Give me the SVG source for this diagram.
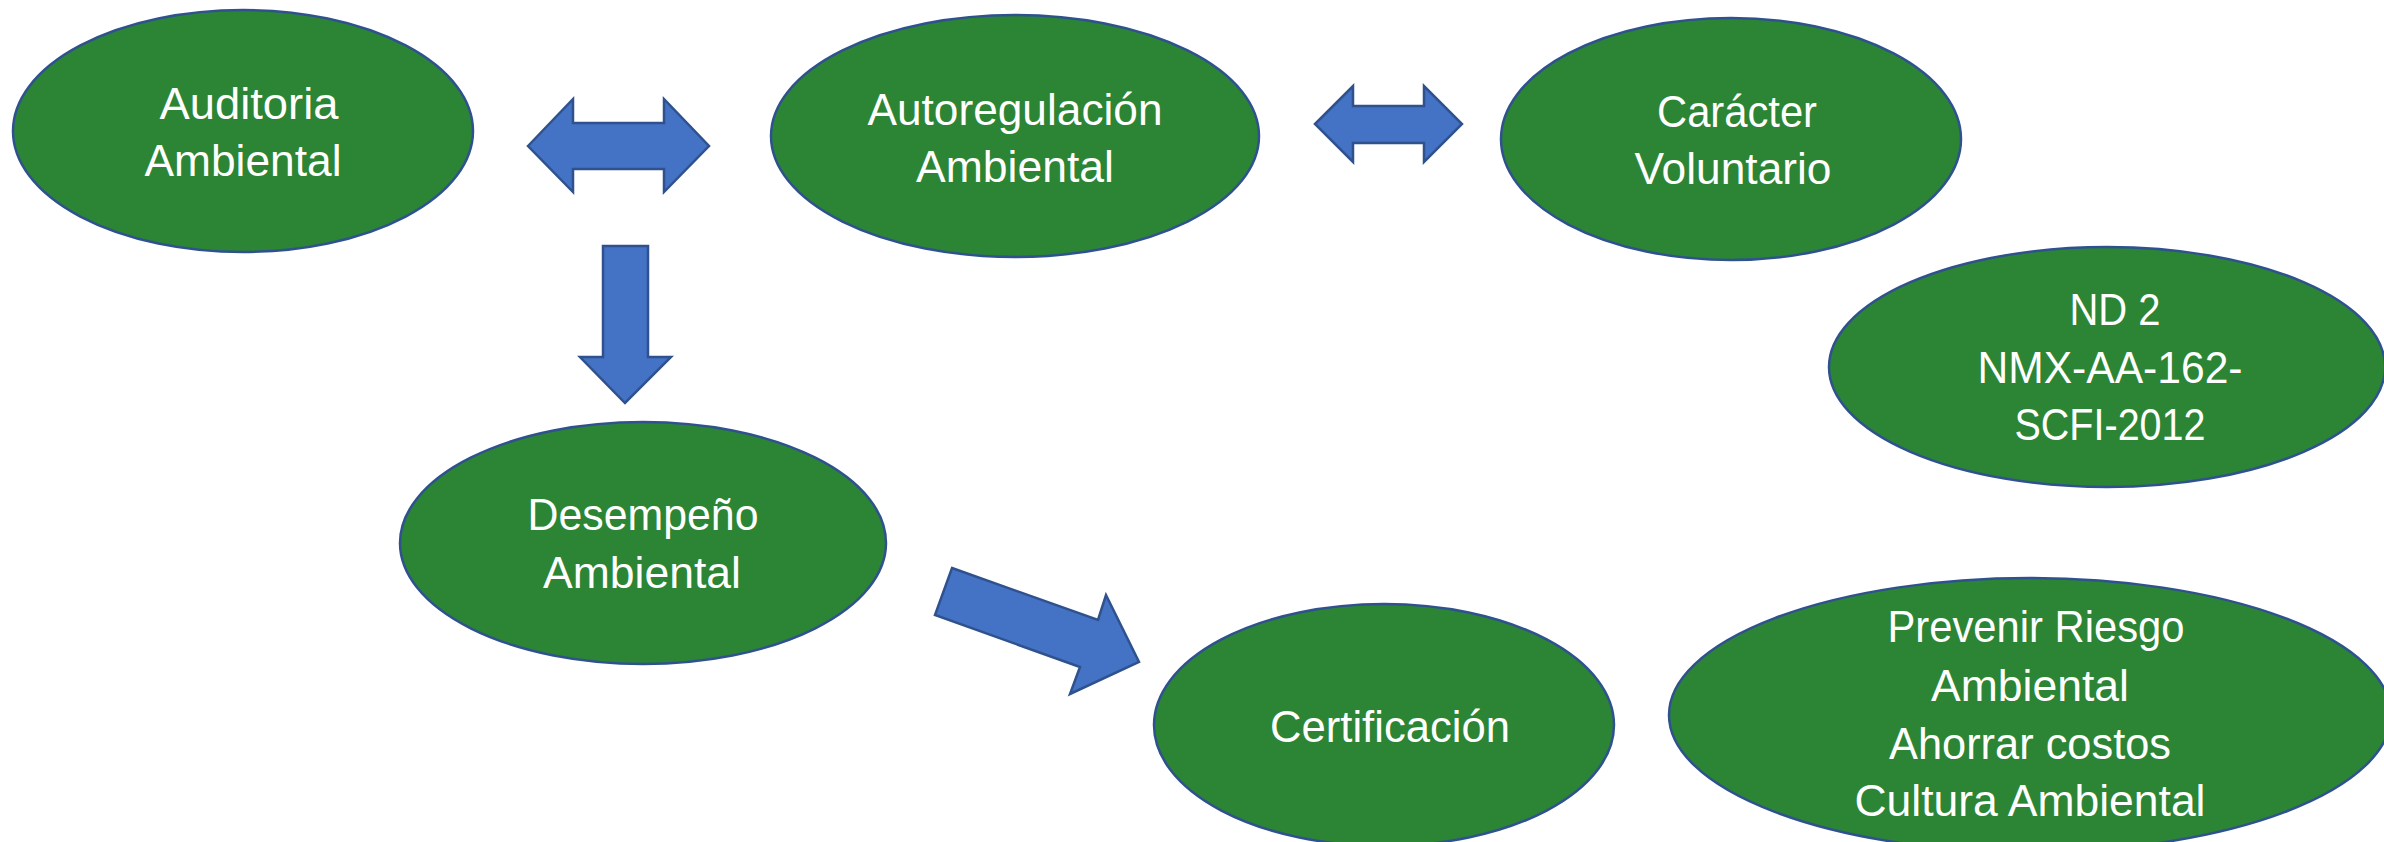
<svg xmlns="http://www.w3.org/2000/svg" width="2384" height="842" viewBox="0 0 2384 842">
<style>
.node ellipse{fill:#2B8534;stroke:#2F528F;stroke-width:2.5}
.node text{fill:#FFFFFF;font-family:"Liberation Sans",Arial,sans-serif;font-size:44px;text-anchor:middle}
.arrow{fill:#4472C4;stroke:#2F528F;stroke-width:2.5;stroke-linejoin:miter}
</style>
<rect width="2384" height="842" fill="#FFFFFF"/>
<g id="connectors">
<polygon class="arrow" points="528,146 573,99 573,123 664,123 664,99 709,146 664,192 664,169 573,169 573,192"/>
<polygon class="arrow" points="1315,124 1353,86 1353,106 1424,106 1424,86 1462,124 1424,162 1424,143 1353,143 1353,162"/>
<polygon class="arrow" points="603,246 648,246 648,357 671,357 625,403 580,357 603,357"/>
<polygon class="arrow" points="952,568 1098,620 1106,595 1139,662 1070,694 1080,667 935,615"/>
</g>
<g id="node-auditoria" class="node">
<ellipse cx="243" cy="131" rx="230" ry="121"/>
<text x="249" y="119" textLength="179" lengthAdjust="spacingAndGlyphs">Auditoria</text>
<text x="243" y="176" textLength="197" lengthAdjust="spacingAndGlyphs">Ambiental</text>
</g>
<g id="node-autoregulacion" class="node">
<ellipse cx="1015" cy="136" rx="244" ry="121"/>
<text x="1015" y="125" textLength="295" lengthAdjust="spacingAndGlyphs">Autoregulación</text>
<text x="1015" y="182" textLength="198" lengthAdjust="spacingAndGlyphs">Ambiental</text>
</g>
<g id="node-caracter" class="node">
<ellipse cx="1731" cy="139" rx="230" ry="121"/>
<text x="1737" y="127" textLength="160" lengthAdjust="spacingAndGlyphs">Carácter</text>
<text x="1733" y="184" textLength="197" lengthAdjust="spacingAndGlyphs">Voluntario</text>
</g>
<g id="node-nd2" class="node">
<ellipse cx="2107" cy="367" rx="278" ry="120"/>
<text x="2115" y="325" textLength="91" lengthAdjust="spacingAndGlyphs">ND 2</text>
<text x="2110" y="383" textLength="265" lengthAdjust="spacingAndGlyphs">NMX-AA-162-</text>
<text x="2110" y="440" textLength="191" lengthAdjust="spacingAndGlyphs">SCFI-2012</text>
</g>
<g id="node-desempeno" class="node">
<ellipse cx="643" cy="543" rx="243" ry="121"/>
<text x="643" y="530" textLength="231" lengthAdjust="spacingAndGlyphs">Desempeño</text>
<text x="642" y="588" textLength="198" lengthAdjust="spacingAndGlyphs">Ambiental</text>
</g>
<g id="node-certificacion" class="node">
<ellipse cx="1384" cy="725" rx="230" ry="121"/>
<text x="1390" y="742" textLength="240" lengthAdjust="spacingAndGlyphs">Certificación</text>
</g>
<g id="node-prevenir" class="node">
<ellipse cx="2030" cy="715" rx="361" ry="137"/>
<text x="2036" y="642" textLength="297" lengthAdjust="spacingAndGlyphs">Prevenir Riesgo</text>
<text x="2030" y="701" textLength="198" lengthAdjust="spacingAndGlyphs">Ambiental</text>
<text x="2030" y="759" textLength="282" lengthAdjust="spacingAndGlyphs">Ahorrar costos</text>
<text x="2030" y="816" textLength="351" lengthAdjust="spacingAndGlyphs">Cultura Ambiental</text>
</g>
</svg>
